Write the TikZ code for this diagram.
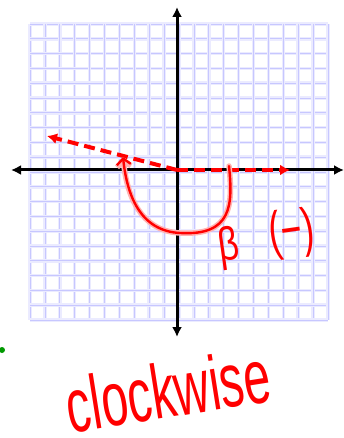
\documentclass[tikz,border=0pt]{standalone}
\usepackage{fontspec}
\setmainfont{Liberation Sans}
\usetikzlibrary{arrows.meta}

\begin{document}
\begin{tikzpicture}[
    x=1pt, y=-1pt,
    gridline/.style = {draw=blue!22, line width=0.8pt, preaction={draw, blue!8, line width=3.5pt}},
    axis/.style = {draw=black, line width=3pt, {Latex[length=10pt,width=10pt]}-{Latex[length=10pt,width=10pt]}},
    ray/.style = {draw=red, line width=4pt, dash pattern=on 11pt off 6pt, -{Latex[length=10pt,width=11pt]}},
    ink/.style = {draw=red, line width=2.4pt, line cap=round, line join=round, preaction={draw, red!30, line width=5.5pt, line cap=round}},
    hand/.style = {text=red, inner sep=0pt}
]

    % Bounding box
    \useasboundingbox (0,0) rectangle (344,438);

    % Grid (Quadrillage)
    \foreach \i in {0,...,20} {
        \draw[gridline] (30+\i*14.9,24) -- (30+\i*14.9,320);
        \draw[gridline] (30,24+\i*14.8) -- (328,24+\i*14.8);
    }

    % Axis points
    \coordinate (O) at (177,170);
    \coordinate (W) at (11,170);
    \coordinate (E) at (344,170);
    \coordinate (N) at (177,7);
    \coordinate (S) at (177,337);

    % Axes
    \draw[axis] (W) -- (E);
    \draw[axis] (S) -- (N);

    % Rays of the angle
    \coordinate (P) at (290,170);
    \coordinate (Q) at (47,136);
    \draw[ray] (O) -- (P);
    \draw[ray] (O) -- (Q);

    % Arc of the angle
    \coordinate (A) at (229,166);
    \coordinate (T) at (123,157);
    \draw[ink, -{Straight Barb[length=6pt,width=14pt]}] (A) .. controls (233,205) and (232,236) .. (180,233)
        .. controls (140,231) and (127,195) .. (T);

    % Labels
    \node[hand, font=\fontsize{36}{36}\selectfont, rotate=8] (beta) at (229,248) {\scalebox{1}[1.3]{β}};
    \node[hand, font=\fontsize{36}{36}\selectfont, rotate=8] (sign) at (292,234) {\scalebox{1}[1.5]{(−)}};
    \node[hand, font=\fontsize{48}{48}\selectfont, rotate=9] (word) at (168,390) {\scalebox{1}[1.6]{clockwise}};

    % Green dot
    \fill[green!60!black] (2,350) circle (3);

\end{tikzpicture}
\end{document}
